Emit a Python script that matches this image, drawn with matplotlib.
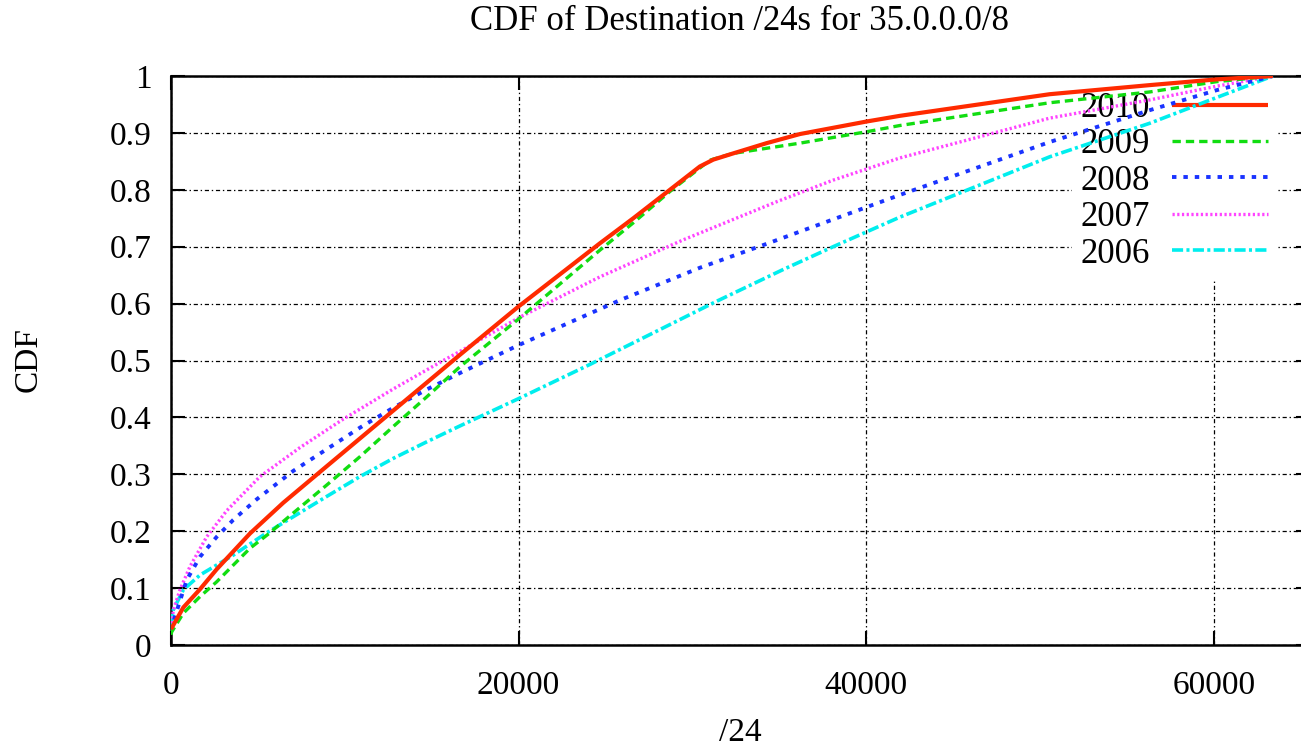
import matplotlib
matplotlib.use("Agg")
import matplotlib.pyplot as plt

# CDF samples (/24 count, cumulative fraction) for each year
x_2010 = [0, 134, 710, 1668, 2627, 4545, 6460, 8955, 10873, 12790, 14710, 16625,
          20000, 24680, 26600, 28706, 30430, 31200, 32350, 34270, 36190, 40020,
          41940, 50560, 56320, 60150, 63400]
y_2010 = [0.028, 0.035, 0.066, 0.098, 0.133, 0.196, 0.250, 0.314, 0.363, 0.412,
          0.461, 0.510, 0.595, 0.706, 0.750, 0.800, 0.841, 0.853, 0.864, 0.882,
          0.898, 0.920, 0.930, 0.968, 0.984, 0.994, 1.0]

x_2009 = [0, 40, 710, 1668, 2627, 4545, 5600, 7037, 8955, 10873, 12790, 14710,
          16625, 20000, 24680, 26600, 28706, 31000, 32350, 36190, 40020, 41940,
          50560, 56320, 60150, 63400]
y_2009 = [0.018, 0.023, 0.056, 0.085, 0.111, 0.170, 0.195, 0.232, 0.281, 0.331,
          0.384, 0.436, 0.489, 0.573, 0.694, 0.742, 0.797, 0.852, 0.864, 0.882,
          0.902, 0.913, 0.953, 0.972, 0.990, 1.0]

x_2008 = [0, 230, 900, 1668, 2627, 3586, 4930, 7037, 8955, 10873, 12790, 14710,
          16625, 20000, 25830, 30430, 34270, 38100, 41940, 50560, 56320, 60150,
          63400]
y_2008 = [0.025, 0.05, 0.114, 0.155, 0.19, 0.22, 0.256, 0.306, 0.344, 0.382,
          0.417, 0.449, 0.478, 0.527, 0.606, 0.663, 0.705, 0.748, 0.791, 0.884,
          0.940, 0.975, 1.0]

x_2007 = [0, 134, 518, 1093, 2052, 3203, 5120, 7421, 9914, 12790, 15665, 16625,
          20000, 24680, 29470, 34845, 38100, 41940, 50560, 56320, 60150, 63400]
y_2007 = [0.03, 0.0615, 0.097, 0.138, 0.19, 0.236, 0.296, 0.347, 0.397, 0.450,
          0.500, 0.516, 0.575, 0.647, 0.712, 0.779, 0.817, 0.856, 0.926, 0.958,
          0.982, 1.0]

x_2006 = [0, 134, 710, 1668, 3586, 5500, 7037, 8955, 10873, 12790, 14710, 16625,
          20000, 24100, 31390, 35230, 38100, 41940, 50560, 56320, 60150, 63400]
y_2006 = [0.035, 0.062, 0.097, 0.123, 0.158, 0.197, 0.2255, 0.261, 0.296, 0.328,
          0.357, 0.385, 0.433, 0.493, 0.604, 0.660, 0.700, 0.752, 0.858, 0.917,
          0.962, 1.0]

years = ["2010", "2009", "2008", "2007", "2006"]
x_ticks = [0, 20000, 40000, 60000]
y_ticks = [0, 0.1, 0.2, 0.3, 0.4, 0.5, 0.6, 0.7, 0.8, 0.9, 1]
y_tick_labels = ["0", "0.1", "0.2", "0.3", "0.4", "0.5", "0.6", "0.7",
                 "0.8", "0.9", "1"]

plt.rcParams["font.family"] = ["Liberation Serif", "DejaVu Serif"]
plt.rcParams["lines.scale_dashes"] = False

W, H = 1301, 749
fig = plt.figure(figsize=(W / 100, H / 100), dpi=100)
left_px, right_px, top_px, bottom_px = 171, 1310, 76, 645
ax = fig.add_axes([left_px / W, 1 - bottom_px / H,
                   (right_px - left_px) / W, (bottom_px - top_px) / H])

styles = [
    dict(color="#ff2a00", lw=3.0, ls="-"),
    dict(color="#11dd11", lw=2.4, ls=(0, (6, 3.6))),
    dict(color="#1a33ff", lw=2.8, ls=(0, (3.2, 5.0))),
    dict(color="#ff44ff", lw=2.4, ls=(0, (1.6, 1.8))),
    dict(color="#00eeee", lw=2.6, ls=(0, (8, 2.4, 2.2, 2.4))),
]
series = [(x_2010, y_2010), (x_2009, y_2009), (x_2008, y_2008),
          (x_2007, y_2007), (x_2006, y_2006)]

for (xs, ys), yr, st in zip(series[::-1], years[::-1], styles[::-1]):
    ax.plot(xs, ys, label=yr, zorder=3, solid_capstyle="butt",
            solid_joinstyle="round", dash_joinstyle="round", **st)

ax.set_xlim(0, 65536)
ax.set_ylim(0, 1)
ax.set_xticks(x_ticks)
ax.set_xticklabels([str(v) for v in x_ticks])
ax.set_yticks(y_ticks)
ax.set_yticklabels(y_tick_labels)
ax.tick_params(direction="in", length=10, width=1.5, labelsize=24,
               top=True, right=True, pad=14)
ax.tick_params(axis="x", pad=18)
for sp in ax.spines.values():
    sp.set_linewidth(1.8)

ax.set_axisbelow(True)
ax.grid(True, color="black", lw=0.9, ls=(0, (3, 2, 1, 2)))

handles, labels = ax.get_legend_handles_labels()
order = [labels.index(y) for y in years]
leg = ax.legend([handles[i] for i in order], [labels[i] for i in order],
                loc="upper right", bbox_to_anchor=(1277 / W, 1 - 83 / H),
                bbox_transform=fig.transFigure, frameon=True, fancybox=False,
                edgecolor="none", facecolor="white", framealpha=1,
                markerfirst=False, fontsize=25, handlelength=2.77,
                handletextpad=0.63, labelspacing=0.1, borderpad=0.25,
                borderaxespad=0)
for t in leg.get_texts():
    t.set_ha("right")
leg.set_zorder(2)

fig.text(740 / W, 1 - 22 / H, "CDF of Destination /24s for 35.0.0.0/8",
         ha="center", va="center", fontsize=25)
fig.text(740 / W, 1 - 733 / H, "/24", ha="center", va="center", fontsize=24)
fig.text(28 / W, 1 - 360 / H, "CDF", ha="center", va="center", fontsize=24,
         rotation=90)

fig.savefig("out.png", dpi=100)
